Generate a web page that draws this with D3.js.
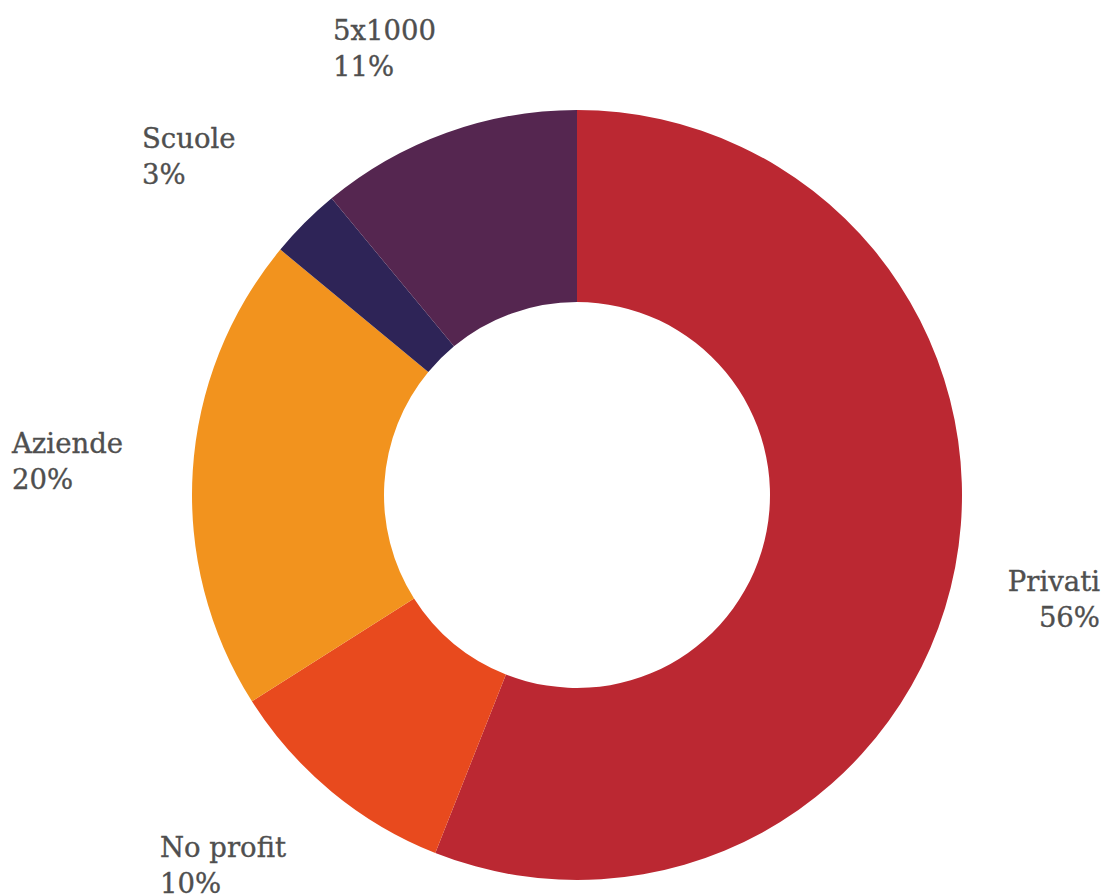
<!DOCTYPE html>
<html>
<head>
<meta charset="utf-8">
<script src="https://cdn.jsdelivr.net/npm/d3@7"></script>
<style>
  body { margin: 0; background: #fff; }
  .lbl { font-family: "DejaVu Serif", serif; font-size: 27.5px; fill: #4f4f4f;
         stroke: #4f4f4f; stroke-width: 0.35px; }
</style>
</head>
<body>
<svg id="chart" width="1103" height="894"></svg>
<script>
// data
var categories = ['Privati', 'No profit', 'Aziende', 'Scuole', '5x1000'];
var shares = [56, 10, 20, 3, 11];
var colors = ['#bb2832', '#e84a1e', '#f2931e', '#2e2457', '#552650'];

var svg = d3.select('#chart');
var cx = 577, cy = 495, rOut = 385, rIn = 193;

var pie = d3.pie().sort(null).value(function(d) { return d; });
var arcs = pie(shares);
var arc = d3.arc().innerRadius(rIn).outerRadius(rOut);

var g = svg.append('g').attr('transform', 'translate(' + cx + ',' + cy + ')');

g.selectAll('path').data(arcs).enter().append('path')
  .attr('d', arc)
  .attr('fill', function(d, i) { return colors[i]; });

// label placement (first baseline, relative to svg)
var labelPos = {
  'Privati':   {x: 1100, y: 591, anchor: 'end'},
  'No profit': {x: 160,  y: 857, anchor: 'start'},
  'Aziende':   {x: 12,   y: 453, anchor: 'start'},
  'Scuole':    {x: 142,  y: 148, anchor: 'start'},
  '5x1000':    {x: 333,  y: 40,  anchor: 'start'}
};

categories.forEach(function(c, i) {
  var p = labelPos[c];
  var t = svg.append('text').attr('class', 'lbl')
    .attr('text-anchor', p.anchor);
  t.append('tspan').attr('x', p.x).attr('y', p.y).text(c);
  t.append('tspan').attr('x', p.x).attr('y', p.y + 36).text(shares[i] + '%');
});
</script>
</body>
</html>
